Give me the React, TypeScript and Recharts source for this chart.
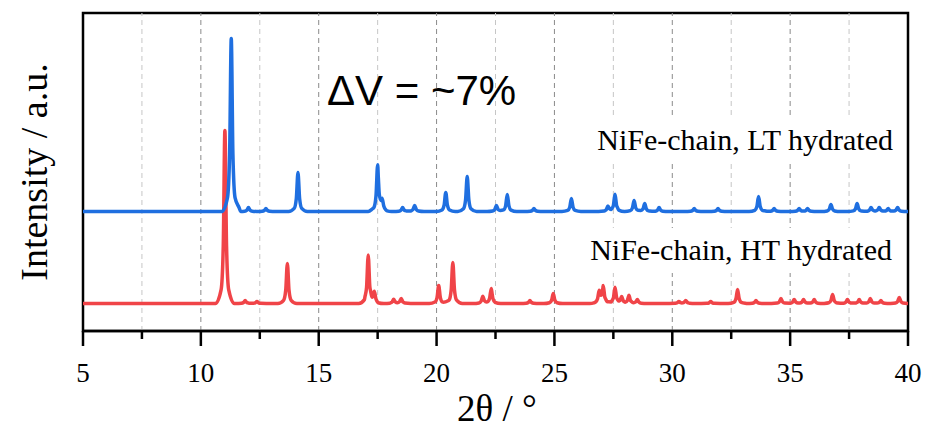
import React from 'react';
import { LineChart, Line, XAxis, YAxis, ReferenceLine, ReferenceArea } from 'recharts';

// tick positions on the 2θ axis (labels only on the multiples of 5)
const X_TICKS = [5, 7.5, 10, 12.5, 15, 17.5, 20, 22.5, 25, 27.5, 30, 32.5, 35, 37.5, 40];

// peak list: [2θ, height above the baseline]
const LT_PEAKS: [number, number][] = [
  [11.29, 173], [12.02, 4], [12.76, 3], [14.12, 39], [17.5, 46], [17.69, 10],
  [18.56, 4], [19.07, 6], [20.39, 19], [21.3, 35], [22.54, 6], [23.0, 17],
  [24.13, 3], [25.72, 13], [27.27, 5], [27.57, 17], [28.38, 11], [28.83, 8],
  [29.44, 4], [30.93, 3], [31.94, 3], [33.66, 15], [34.32, 3], [35.38, 3],
  [35.74, 3], [36.73, 7], [37.84, 8], [38.43, 4], [38.78, 4], [39.16, 3], [39.56, 4],
];

const HT_PEAKS: [number, number][] = [
  [11.02, 173], [11.88, 3], [12.38, 2], [13.67, 40], [17.1, 48], [17.36, 10],
  [18.18, 4], [18.5, 5], [20.09, 18], [20.69, 41], [21.96, 7], [22.32, 15],
  [23.96, 3], [24.95, 10], [26.9, 12], [27.07, 17], [27.57, 16], [27.85, 6],
  [28.16, 8], [28.52, 4], [30.28, 2], [30.57, 3], [31.63, 2], [32.77, 14],
  [33.55, 3], [34.61, 5], [35.17, 4], [35.57, 4], [36.02, 4], [36.8, 9],
  [37.43, 4], [37.93, 4], [38.4, 5], [38.85, 3], [39.63, 6],
];

// vertical offsets of the two stacked patterns
const LT_OFFSET = 119.5;
const HT_OFFSET = 27.5;

// peak shape: [Δ2θ, fraction of the peak height]
const PROFILE: [number, number][] = [
  [-0.4, 0], [-0.16, 0.08], [-0.07, 0.33], [0, 1], [0.07, 0.33], [0.16, 0.08], [0.4, 0],
];

const profileAt = (dx: number) => {
  for (let i = 0; i < PROFILE.length - 1; i++) {
    const [x0, y0] = PROFILE[i];
    const [x1, y1] = PROFILE[i + 1];
    if (dx >= x0 && dx <= x1) return y0 + ((dx - x0) / (x1 - x0)) * (y1 - y0);
  }
  return 0;
};

const buildPattern = (peaks: [number, number][], offset: number) => {
  const xs = new Set<number>([5, 40]);
  peaks.forEach(([p]) =>
    PROFILE.forEach(([dx]) => {
      const x = +(p + dx).toFixed(3);
      if (x > 5 && x < 40) xs.add(x);
    })
  );
  return [...xs]
    .sort((a, b) => a - b)
    .map((x) => ({ x, y: offset + peaks.reduce((s, [p, h]) => s + h * profileAt(x - p), 0) }));
};

const ltData = buildPattern(LT_PEAKS, LT_OFFSET);
const htData = buildPattern(HT_PEAKS, HT_OFFSET);

const SERIF = "'Liberation Serif', 'Times New Roman', serif";
const SANS = "'Liberation Sans', Arial, sans-serif";

const XTick = (props: any) => {
  const { x, y, payload } = props;
  const major = payload.value % 5 === 0;
  return (
    <g>
      <line x1={x} x2={x} y1={y} y2={y + (major ? 15 : 8)} stroke="#000" strokeWidth={2.5} />
      {major && (
        <text x={x} y={y + 51} textAnchor="middle" fontFamily={SERIF} fontSize={27} fill="#000">
          {payload.value}
        </text>
      )}
    </g>
  );
};

const App: React.FC = () => {
  return (
    <div style={{ position: 'absolute', left: 0, top: 0, width: 925, height: 429, background: '#fff' }}>
      <LineChart width={925} height={429} margin={{ top: 13, right: 17, bottom: 0, left: 83 }}>
        <XAxis
          dataKey="x"
          type="number"
          domain={[5, 40]}
          ticks={X_TICKS}
          interval={0}
          allowDataOverflow
          height={98}
          tickSize={0}
          tickMargin={0}
          tick={<XTick />}
          axisLine={{ stroke: '#000', strokeWidth: 2.5 }}
        />
        <YAxis type="number" domain={[0, 318]} hide allowDataOverflow />
        {X_TICKS.slice(1, -1).map((t) => (
          <ReferenceLine
            key={t}
            x={t}
            stroke={t % 5 === 0 ? '#8a8a8a' : '#c6c6c6'}
            strokeWidth={1}
            strokeDasharray="5 4"
          />
        ))}
        <Line data={htData} dataKey="y" type="monotone" stroke="#f04448" strokeWidth={3.5} dot={false} isAnimationActive={false} />
        <Line data={ltData} dataKey="y" type="monotone" stroke="#1f6fe0" strokeWidth={3.5} dot={false} isAnimationActive={false} />
        <ReferenceArea x1={5} x2={40} y1={0} y2={318} fill="none" stroke="#000" strokeWidth={2.5} />
      </LineChart>
      <svg width={925} height={429} style={{ position: 'absolute', left: 0, top: 0, pointerEvents: 'none' }}>
        <rect x={582} y={118} width={320} height={45} fill="#fff" />
        <text x={893} y={150} textAnchor="end" fontFamily={SERIF} fontSize={30} fill="#000">
          NiFe-chain, LT hydrated
        </text>
        <rect x={582} y={228} width={320} height={45} fill="#fff" />
        <text x={892} y={260} textAnchor="end" fontFamily={SERIF} fontSize={30} fill="#000">
          NiFe-chain, HT hydrated
        </text>
        <text x={327} y={105} fontFamily={SANS} fontSize={42} fill="#000">
          ΔV = ~7%
        </text>
        <text x={47} y={172} transform="rotate(-90 47 172)" textAnchor="middle" fontFamily={SERIF} fontSize={38} fill="#000">
          Intensity / a.u.
        </text>
        <text x={497} y={421} textAnchor="middle" fontFamily={SERIF} fontSize={37} fill="#000">
          2θ / °
        </text>
      </svg>
    </div>
  );
};

export default App;
